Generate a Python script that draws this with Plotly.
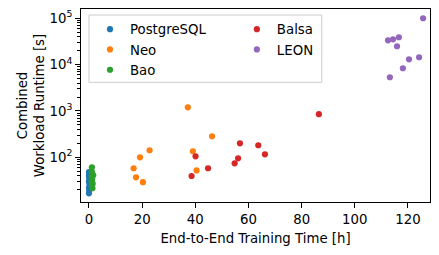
import plotly.graph_objects as go

# ---- data ----
pg_x = [0.0, 0.0, 0.1, 0.0, 0.2, 0.0, 0.1, 0.0]
pg_y = [48, 40, 35, 30, 26, 22, 19.5, 16.7]

neo_x = [37.2, 16.8, 17.7, 19.2, 20.3, 22.8, 39.1, 40.5, 46.3]
neo_y = [1200, 58, 37, 100, 29, 142, 135, 52, 284]

bao_x = [1.1, 1.0, 1.2, 1.6, 1.0, 1.2, 1.0, 1.4, 1.1, 1.3]
bao_y = [61, 50, 45, 41, 38, 34, 30, 27, 24, 21.5]

balsa_x = [38.6, 40.1, 44.8, 54.8, 56.1, 56.8, 63.7, 66.2, 86.5]
balsa_y = [39.5, 105, 58, 74, 95, 200, 182, 116, 850]

leon_x = [125.7, 112.5, 114.4, 116.6, 115.9, 120.4, 124.2, 118.1, 113.2]
leon_y = [100000, 33500, 35200, 38900, 24900, 13000, 14400, 8340, 5330]

x_ticks = [0, 20, 40, 60, 80, 100, 120]
y_tickvals = [100, 1000, 10000, 100000]
y_ticktext = ["10<sup>2</sup>", "10<sup>3</sup>", "10<sup>4</sup>", "10<sup>5</sup>"]

series = [
    ("PostgreSQL", pg_x, pg_y, "#1f77b4", "legend"),
    ("Neo", neo_x, neo_y, "#ff7f0e", "legend"),
    ("Bao", bao_x, bao_y, "#2ca02c", "legend"),
    ("Balsa", balsa_x, balsa_y, "#d62728", "legend2"),
    ("LEON", leon_x, leon_y, "#9467bd", "legend2"),
]

# the page body has an 8px default margin, so the figure starts at (8, 8)
VW, VH = 439, 255
OFF = 8
W, H = VW - OFF, VH - OFF
# plot area in window pixels
PL, PR, PT, PB = 81, 430.3, 9, 202
L, R, T, B = PL - OFF, W - (PR - OFF), PT - OFF, H - (PB - OFF)
pw, ph = PR - PL, PB - PT

FONT = "DejaVu Sans"
FS = 13.3

fig = go.Figure()
for name, xs, ys, col, lg in series:
    fig.add_trace(go.Scatter(
        x=xs, y=ys, mode="markers", name=name, legend=lg,
        marker=dict(color=col, size=6.2, line=dict(width=0)),
    ))

def px2paper(px, py):
    return (px - PL) / pw, (PB - py) / ph

# legend frame
x0, y0 = px2paper(89, 82.3)
x1, y1 = px2paper(322, 15)
fig.add_shape(type="rect", x0=x0, y0=y0, x1=x1, y1=y1, xref="paper", yref="paper",
              line=dict(color="#cccccc", width=1),
              fillcolor="rgba(255,255,255,0.8)", layer="above")

lx1, ly = px2paper(90, 14)
lx2, _ = px2paper(237, 14)
legend_common = dict(font=dict(family=FONT, size=FS, color="black"),
                     bgcolor="rgba(0,0,0,0)", borderwidth=0,
                     yanchor="top", xanchor="left", tracegroupgap=0,
                     itemwidth=30)

axis_common = dict(showline=True, linecolor="black", linewidth=1.1, mirror=True,
                   ticks="outside", ticklen=4.9, tickwidth=1.1, tickcolor="black",
                   showgrid=False, zeroline=False, automargin=False,
                   tickfont=dict(family=FONT, size=FS, color="black"))

fig.update_layout(
    width=W, height=H,
    margin=dict(l=L, r=R, t=T, b=B, autoexpand=False),
    paper_bgcolor="white", plot_bgcolor="white",
    font=dict(family=FONT, size=FS, color="black"),
    legend=dict(x=lx1, y=ly, **legend_common),
    legend2=dict(x=lx2, y=ly, **legend_common),
    xaxis=dict(range=[-3, 128.3], tickvals=x_ticks,
               title=dict(text="End-to-End Training Time [h]", standoff=7,
                          font=dict(family=FONT, size=FS, color="black")),
               **axis_common),
    yaxis=dict(type="log", range=[1.035, 5.2], tickvals=y_tickvals, ticktext=y_ticktext,
               minor=dict(ticks="outside", ticklen=2.8, tickwidth=0.8, tickcolor="black",
                          dtick="D1", showgrid=False),
               title=dict(text="Combined<br>Workload Runtime [s]", standoff=1,
                          font=dict(family=FONT, size=FS, color="black")),
               **axis_common),
    showlegend=True,
)

fig.write_html("out.html")
